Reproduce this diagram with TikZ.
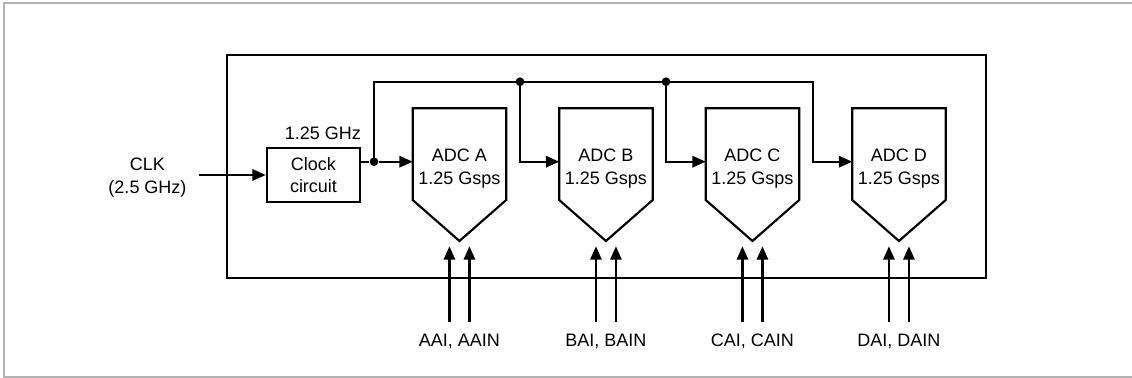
\documentclass[tikz,border=0pt]{standalone}
\usepackage{fontspec}
\setmainfont{Liberation Sans}
\usetikzlibrary{arrows.meta,calc}

\tikzset{
  wire/.style={line width=1.6pt},
  sig/.style={wire, -{Triangle[length=10pt,width=8.5pt]}},
  dot/.style={circle, fill, inner sep=0pt, minimum size=6.5pt},
  txt/.style={align=center, font=\fontsize{13.5}{17}\selectfont, inner sep=2pt},
}

\begin{document}
\begin{tikzpicture}[x=0.75pt, y=-0.75pt]
  \useasboundingbox (0,0) rectangle (1132,378);
  \draw[line width=1.5pt, black!30] (1132,3.5) -- (3.5,3.5) -- (3.5,376.5) -- (1132,376.5);

  % chip outline
  \draw[wire] (227,55) rectangle (986,278);

  % clock input
  \node[txt] (clk) at (147.5,177.5) {CLK\\(2.5 GHz)};
  \node[txt, draw, wire, minimum width=70pt, minimum height=40.5pt] (clock) at (313.5,175) {Clock\\circuit};
  \node[txt, anchor=south east, inner sep=0pt] (fout) at ([yshift=5pt]clock.north east) {1.25 GHz};
  \draw[sig, shorten <=7pt] (clk.east |- clock) -- (clock);

  % the four ADCs
  \foreach \n [count=\i from 0] in {A,B,C,D}{
    \pgfmathsetmacro{\xl}{412.7+146.5*\i}
    \draw[wire, line join=miter] (\xl,108.3) -- ++(93.5,0) -- ++(0,91.7) -- ++(-46.75,41) -- ++(-46.75,-41) -- cycle;
    \coordinate (in\n) at (\xl,161.7);
    \coordinate (tip\n) at ({\xl+46.75},241);
    \node[txt] (adc\n) at ({\xl+46.75},168.5) {ADC \n\\1.25 Gsps};
    \node[txt] (lab\n) at ({\xl+46.75},341.5) {\n AI, \n AIN};
    \draw[sig] ([xshift=-7.5pt, yshift=7pt]lab\n.north) -- ([xshift=-7.5pt, yshift=-4pt]tip\n);
    \draw[sig] ([xshift=7.5pt, yshift=7pt]lab\n.north) -- ([xshift=7.5pt, yshift=-4pt]tip\n);
  }

  % clock distribution
  \node[dot] (sA) at (374,161.7) {};
  \node[dot] (sB) at (520,81.7) {};
  \node[dot] (sC) at (666,81.7) {};
  \coordinate (sD) at (812.7,81.7);
  \draw[wire] (clock.east |- sA) -- (sA);
  \draw[sig] (sA) -- (inA);
  \draw[sig, line join=miter] (sA.center) |- (sD) |- (inD);
  \draw[sig] (sB.center) |- (inB);
  \draw[sig] (sC.center) |- (inC);
\end{tikzpicture}
\end{document}
